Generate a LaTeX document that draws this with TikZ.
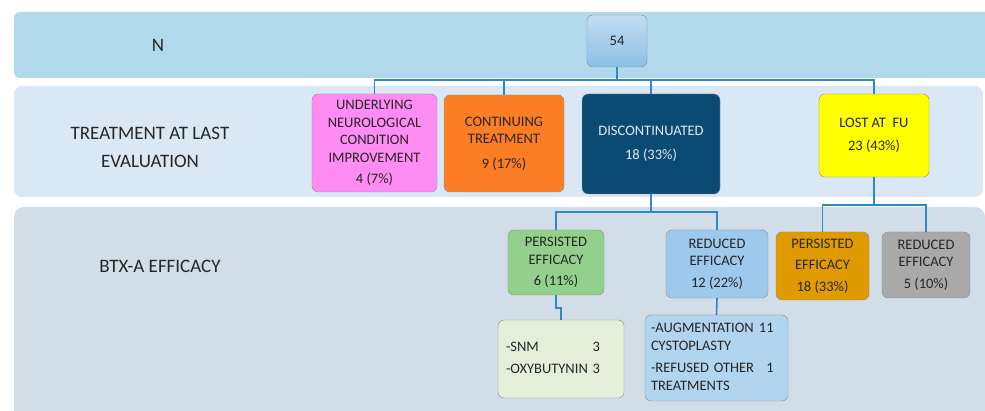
\documentclass[tikz,border=0pt]{standalone}
\usepackage{fontspec}
\setmainfont{Carlito}
\usetikzlibrary{positioning}

\definecolor{bandN}{HTML}{B2D8EC}
\definecolor{bandT}{HTML}{DAE7F4}
\definecolor{bandB}{HTML}{D1DDE7}
\definecolor{linkblue}{HTML}{2E88C4}
\definecolor{pinkbox}{HTML}{FF8CF2}
\definecolor{orangebox}{HTML}{FC7E24}
\definecolor{darkbox}{HTML}{0B4A73}
\definecolor{yellowbox}{HTML}{FFFF00}
\definecolor{greenbox}{HTML}{92D08C}
\definecolor{bluebox}{HTML}{9DC9EC}
\definecolor{amberbox}{HTML}{E09B00}
\definecolor{graybox}{HTML}{A9A9A9}
\definecolor{palegreen}{HTML}{E3EFD9}
\definecolor{paleblue}{HTML}{B2D5EF}

\begin{document}
\begin{tikzpicture}[x=1pt, y=-1pt,
    box/.style = { draw = black!45, rounded corners = 6pt, align = center,
                   inner sep = 2pt, text = black!85,
                   font = \fontsize{14.5}{17.5}\selectfont },
    listbox/.style = { box, align = left, inner sep = 0pt },
    link/.style = { draw = linkblue, line width = 1.6pt },
    rowlabel/.style = { align = center, text = black!85,
                        font = \fontsize{19}{28}\selectfont }]
    \useasboundingbox (0,0) rectangle (985,411);

    % bands
    \begin{scope}
      \clip (0,0) rectangle (985,411);
      \fill[bandN, rounded corners = 6pt] (14,12) rectangle (1000,78);
      \fill[bandT, rounded corners = 8pt] (14,86) rectangle (983,197);
      \fill[bandB, rounded corners = 10pt] (14,207) rectangle (985,430);
    \end{scope}

    \node[rowlabel] (labN) at (158,45) {N};
    \node[rowlabel] (labT) at (150,147) {TREATMENT AT LAST\\ EVALUATION};
    \node[rowlabel] (labB) at (160,266) {BTX-A EFFICACY};

    % first level
    \node[box, minimum width = 60pt, minimum height = 52pt,
          top color = paleblue!80!white, bottom color = bluebox!85!linkblue]
          (n54) at (617,41) {54};

    \node[box, fill = pinkbox, minimum width = 125pt, minimum height = 98pt]
          (under) at (374.5,143) {UNDERLYING\\ NEUROLOGICAL\\ CONDITION\\ IMPROVEMENT\\[4pt] 4 (7\%)};
    \node[box, fill = orangebox, minimum width = 120pt, minimum height = 97pt]
          (contin) at (504,143.5) {CONTINUING\\ TREATMENT\\[7pt] 9 (17\%)};
    \node[box, fill = darkbox, text = white!88!darkbox, minimum width = 138pt, minimum height = 100pt]
          (discont) at (651,144) {DISCONTINUATED\\[6pt] 18 (33\%)};
    \node[box, fill = yellowbox, minimum width = 110pt, minimum height = 83pt]
          (lost) at (874,135.5) {LOST AT\ \ FU\\[6pt] 23 (43\%)};

    % second level
    \node[box, fill = greenbox, minimum width = 96pt, minimum height = 65pt]
          (persgreen) at (556,262.5) {PERSISTED\\ EFFICACY\\[4pt] 6 (11\%)};
    \node[box, fill = bluebox, minimum width = 102pt, minimum height = 68pt]
          (redblue) at (717,264) {REDUCED\\ EFFICACY\\[4pt] 12 (22\%)};
    \node[box, fill = amberbox, minimum width = 93pt, minimum height = 68pt]
          (persamber) at (822.5,266) {PERSISTED\\[4pt] EFFICACY\\[4pt] 18 (33\%)};
    \node[box, fill = graybox, minimum width = 88pt, minimum height = 66pt]
          (redgray) at (926,265) {REDUCED\\ EFFICACY\\[4pt] 5 (10\%)};

    % third level
    \node[listbox, fill = palegreen, text width = 110pt, minimum height = 78pt,
          inner xsep = 8pt]
          (snm) at (561,359) {\begin{tabular}{@{}l@{\ }r@{}}
            -SNM & 3\\[5pt]
            -OXYBUTYNIN & 3
          \end{tabular}};
    \node[listbox, fill = paleblue, text width = 131pt, minimum height = 86pt,
          inner xsep = 6pt]
          (augm) at (716.5,358) {\begin{tabular}{@{}l@{\ }r@{}}
            -AUGMENTATION & 11\\
            CYSTOPLASTY & \\[5pt]
            -REFUSED OTHER & 1\\
            TREATMENTS &
          \end{tabular}};

    % connectors
    \draw[link] (n54.south) -- ++(0,13) -| (under.north);
    \draw[link] (n54.south) -- ++(0,13) -| (contin.north);
    \draw[link] (n54.south) -- ++(0,13) -| (discont.north);
    \draw[link] (n54.south) -- ++(0,13) -| (lost.north);

    \draw[link] (discont.south) -- ++(0,18) -| (persgreen.north);
    \draw[link] (discont.south) -- ++(0,18) -| (redblue.north);
    \draw[link] (lost.south) -- ++(0,28) -| (persamber.north);
    \draw[link] (lost.south) -- ++(0,28) -| (redgray.north);

    \draw[link] (persgreen.south) -- ++(0,13) -| (snm.north);
    \draw[link] (redblue.south) -- (augm.north);
\end{tikzpicture}
\end{document}
